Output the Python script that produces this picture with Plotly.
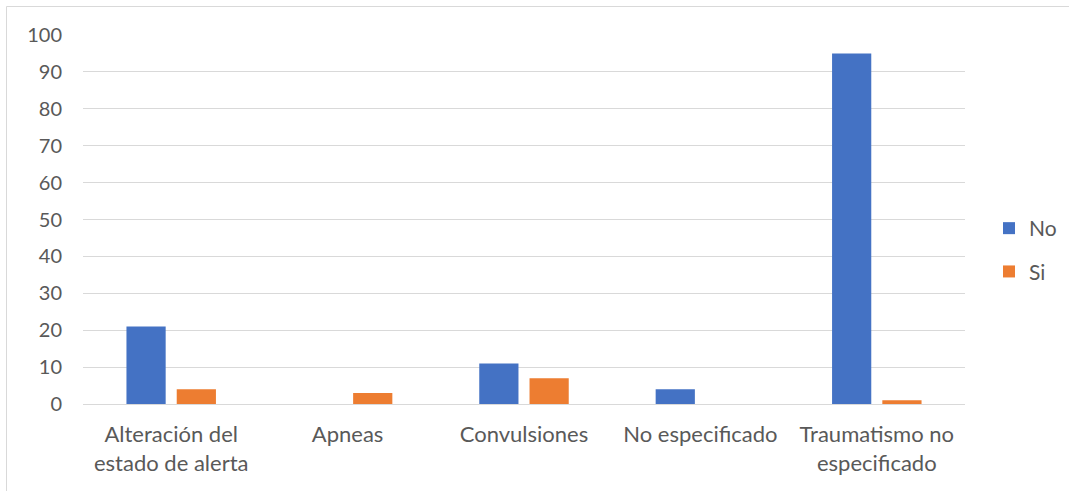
import plotly.graph_objects as go

categories = ["Alteración del<br>estado de alerta", "Apneas", "Convulsiones", "No especificado", "Traumatismo no<br>especificado"]
no_values = [21, 0, 11, 4, 95]
si_values = [4, 3, 7, 0, 1]
y_ticks = [0, 10, 20, 30, 40, 50, 60, 70, 80, 90, 100]

W, H = 1069, 491
L, R, T, B = 83, 104, 35, 87
pw, ph = W - L - R, H - T - B

fig = go.Figure()
fig.add_trace(go.Bar(name="No", x=categories, y=no_values, marker_color="#4472C4",
                     marker_line_width=0, legendgroup="a"))
fig.add_trace(go.Bar(name="Si", x=categories, y=si_values, marker_color="#ED7D31",
                     marker_line_width=0, legendgroup="b"))

FAM = "Lato, Carlito, 'Open Sans', sans-serif"
tick_font = dict(family=FAM, size=20, color="#595959")
cat_font = dict(family=FAM, size=22, color="#595959")

def px_x(p):
    return (p - L) / pw

def px_y(p):
    return (H - B - p) / ph

fig.update_layout(
    width=W, height=H,
    margin=dict(l=L, r=R, t=T, b=B, autoexpand=False),
    paper_bgcolor="white", plot_bgcolor="white",
    barmode="group", bargap=0.43, bargroupgap=0.22,
    font=tick_font,
    showlegend=True,
    legend=dict(xref="container", yref="container", x=989 / W, y=1 - 208 / H,
                xanchor="left", yanchor="top",
                font=dict(family=FAM, size=21, color="#595959"),
                tracegroupgap=13, itemwidth=30, bgcolor="rgba(0,0,0,0)"),
    xaxis=dict(showgrid=False, showline=True, linecolor="#d9d9d9", linewidth=1,
               ticks="", tickfont=cat_font, ticklabelstandoff=11, fixedrange=True),
    yaxis=dict(range=[0, 100], tickvals=y_ticks, showgrid=True, gridcolor="#d9d9d9",
               gridwidth=1, zeroline=False, showline=False, ticks="",
               tickfont=tick_font, ticklabelstandoff=20, fixedrange=True),
    shapes=[
        dict(type="line", xref="paper", yref="paper", x0=px_x(6.5), x1=px_x(1069),
             y0=px_y(6.5), y1=px_y(6.5), line=dict(color="#d9d9d9", width=1)),
        dict(type="line", xref="paper", yref="paper", x0=px_x(6.5), x1=px_x(6.5),
             y0=px_y(6.5), y1=px_y(491), line=dict(color="#d9d9d9", width=1)),
    ],
)

fig.write_html("out.html", config={"displayModeBar": False},
               post_script="document.body.style.margin='0';")
